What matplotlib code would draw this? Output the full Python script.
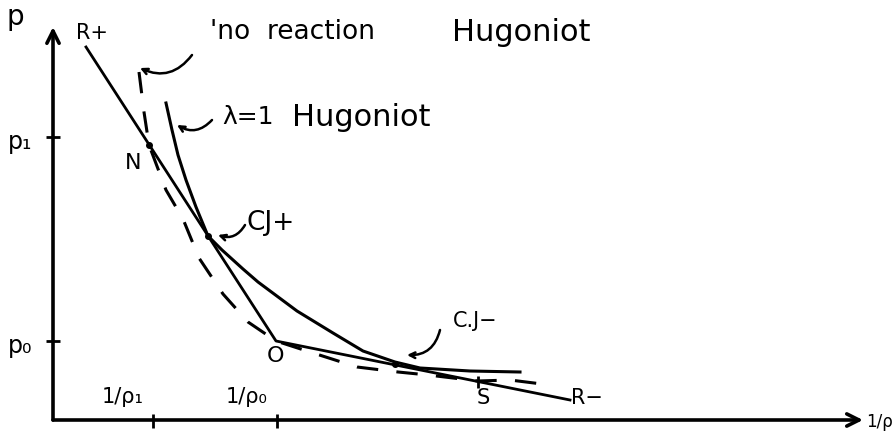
#sketch of the Hugoniot curves and Rayleigh lines in the (1/rho, p) plane
import matplotlib
matplotlib.use('Agg')
import matplotlib.pyplot as plt

#data (x = 1/rho, y = p, arbitrary units)
v_ticks = [1.0, 2.24]
v_tick_labels = ['1/ρ₁', '1/ρ₀']
p_ticks = [2.83, 0.79]
p_tick_labels = ['p₁', 'p₀']

#lambda = 1 (fully reacted) Hugoniot
hug1_v = [1.13, 1.19, 1.25, 1.33, 1.43, 1.55, 1.69, 1.90, 2.05, 2.44, 2.80, 3.10, 3.42, 3.67, 4.17, 4.67]
hug1_p = [3.17, 2.90, 2.65, 2.40, 2.13, 1.84, 1.70, 1.51, 1.38, 1.09, 0.87, 0.69, 0.58, 0.52, 0.49, 0.48]

#no reaction Hugoniot (dashed)
hug0_v = [0.86, 0.91, 0.96, 1.13, 1.30, 1.46, 1.70, 1.95, 2.23, 2.57, 3.04, 3.45, 3.75, 4.25, 4.57, 4.97]
hug0_p = [3.48, 3.08, 2.75, 2.30, 2.01, 1.62, 1.26, 0.98, 0.79, 0.68, 0.53, 0.48, 0.45, 0.39, 0.40, 0.35]

#rayleigh lines R+ -> O -> R-
ray_v = [0.33, 2.23, 5.17]
ray_p = [3.73, 0.79, 0.20]

#special points N, CJ+, CJ-
pt_v = [0.96, 1.55, 3.42]
pt_p = [2.755, 1.84, 0.56]
s_point = (4.25, 0.385)

fig = plt.figure(figsize=(8.92, 4.47), dpi=100)
ax = fig.add_axes([0, 0, 1, 1])
ax.set_xlim(-0.53, 8.39)
ax.set_ylim(-0.27, 4.20)
ax.axis('off')

#axes with arrows
arr = dict(arrowstyle='->', lw=2.6, color='black', shrinkA=0, shrinkB=0, mutation_scale=22)
ax.annotate('', xy=(8.10, 0), xytext=(0, 0), arrowprops=arr)
ax.annotate('', xy=(0, 3.93), xytext=(0, 0), arrowprops=arr)
ax.vlines(v_ticks, -0.08, 0.06, color='black', lw=2)
ax.hlines(p_ticks, -0.07, 0.07, color='black', lw=2)

#tick labels
for v, lab in zip(v_ticks, v_tick_labels):
    ax.text(v - 0.3, 0.23, lab, fontsize=15, ha='center', va='center')
for p, lab in zip(p_ticks, p_tick_labels):
    ax.text(-0.33, p - 0.05, lab, fontsize=17, ha='center', va='center')
ax.text(-0.38, 4.03, 'p', fontsize=20, ha='center', va='center')
ax.text(8.13, -0.02, '1/ρ', fontsize=12, ha='left', va='center')

#curves
ax.plot(hug1_v, hug1_p, color='black', lw=2.2)
ax.plot(hug0_v, hug0_p, color='black', lw=2.2, dashes=(7, 6))
ax.plot(ray_v, ray_p, color='black', lw=2.0)
ax.plot(pt_v, pt_p, 'o', color='black', ms=4)
ax.plot(s_point[0], s_point[1], '|', color='black', ms=9, mew=2)

#point labels
ax.text(0.39, 3.87, 'R+', fontsize=15, ha='center', va='center')
ax.text(0.80, 2.57, 'N', fontsize=16, ha='center', va='center')
ax.text(2.23, 0.64, 'O', fontsize=16, ha='center', va='center')
ax.text(4.30, 0.22, 'S', fontsize=15, ha='center', va='center')
ax.text(5.34, 0.22, 'R−', fontsize=15, ha='center', va='center')

#labels with squiggly arrows
lead = dict(arrowstyle='->', lw=1.8, color='black', connectionstyle='arc3,rad=-0.4', shrinkA=0, shrinkB=0)
ax.text(1.57, 3.88, "'no  reaction", fontsize=19, ha='left', va='center')
ax.text(3.99, 3.88, 'Hugoniot', fontsize=22, ha='left', va='center')
ax.annotate('', xy=(0.87, 3.52), xytext=(1.39, 3.65), arrowprops=lead)
ax.text(1.69, 3.03, 'λ=1', fontsize=18, ha='left', va='center')
ax.text(2.39, 3.03, 'Hugoniot', fontsize=22, ha='left', va='center')
ax.annotate('', xy=(1.24, 2.95), xytext=(1.59, 3.00), arrowprops=lead)
ax.text(1.94, 1.97, 'CJ+', fontsize=19, ha='left', va='center')
ax.annotate('', xy=(1.65, 1.85), xytext=(1.92, 1.95), arrowprops=lead)
ax.text(4.00, 0.99, 'C.J−', fontsize=15, ha='left', va='center')
ax.annotate('', xy=(3.54, 0.65), xytext=(3.87, 0.90), arrowprops=lead)

fig.savefig('out.png', dpi=100)
